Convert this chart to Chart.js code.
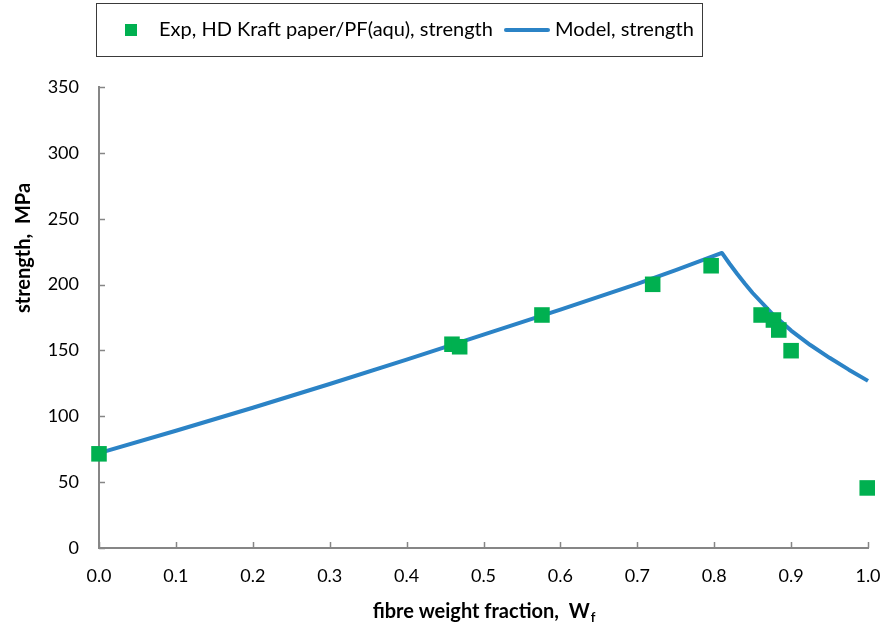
<!DOCTYPE html>
<html>
<head>
<meta charset="utf-8">
<script src="https://cdn.jsdelivr.net/npm/chart.js@4.4.1/dist/chart.umd.min.js"></script>
<style>
    html, body { margin: 0; padding: 0; background: #fff; }
    #wrap { width: 882px; height: 629px; }
</style>
</head>
<body>
<div id="wrap"><canvas id="strengthChart" width="882" height="629"></canvas></div>
<script>
// experimental points
const expFraction = [0.0, 0.459, 0.469, 0.576, 0.720, 0.796, 0.861, 0.877, 0.884, 0.900, 0.999];
const expStrength = [71.5, 154.7, 152.8, 176.9, 200.2, 214.3, 176.9, 173.1, 165.5, 149.8, 45.6];

// model curve
const modelFraction = [0, 0.1, 0.2, 0.3, 0.4, 0.5, 0.6, 0.7, 0.75, 0.81, 0.82, 0.83, 0.84, 0.85, 0.875, 0.9, 0.925, 0.95, 0.975, 1.0];
const modelStrength = [72, 89, 106.5, 124.5, 143, 162, 181, 200.5, 211, 224, 215.8, 208, 200.6, 193.6, 178.1, 165.1, 154.1, 144.4, 135.4, 126.9];

const xTicks = [0, 0.1, 0.2, 0.3, 0.4, 0.5, 0.6, 0.7, 0.8, 0.9, 1.0];
const yTicks = [0, 50, 100, 150, 200, 250, 300, 350];

const seriesNames = ['Exp, HD Kraft paper/PF(aqu), strength', 'Model, strength'];
const xTitle = 'fibre weight fraction,  W';
const xTitleSub = 'f';
const yTitle = 'strength,  MPa';

const GREEN = '#00B050';
const BLUE = '#2B83C6';
const AXIS = '#868686';
const FONT = 'Lato';

const swatch = (w, h, draw) => {
    const c = document.createElement('canvas');
    c.width = w;
    c.height = h;
    draw(c.getContext('2d'));
    return c;
};

const squareSwatch = swatch(12, 12, (g) => {
    g.fillStyle = GREEN;
    g.fillRect(0, 0, 12, 12);
});

const lineSwatch = swatch(46, 6, (g) => {
    g.strokeStyle = BLUE;
    g.lineWidth = 4;
    g.lineCap = 'round';
    g.beginPath();
    g.moveTo(2, 3);
    g.lineTo(44, 3);
    g.stroke();
});

const toPoints = (xs, ys) => xs.map((x, i) => ({ x, y: ys[i] }));

// legend frame + inner tick marks + axis titles
const decorations = {
    id: 'decorations',
    afterLayout(chart) {
        const lg = chart.legend;
        const h = lg.bottom - lg.top;
        lg.top = 4;
        lg.bottom = 4 + h;
        lg.left = 97;
    },
    beforeDatasetsDraw(chart) {
        const { ctx, chartArea, scales } = chart;
        ctx.save();
        ctx.strokeStyle = AXIS;
        ctx.lineWidth = 1.5;
        ctx.beginPath();
        xTicks.forEach((v) => {
            const px = Math.round(scales.x.getPixelForValue(v)) + 0.5;
            ctx.moveTo(px, chartArea.bottom);
            ctx.lineTo(px, chartArea.bottom - 6);
        });
        yTicks.forEach((v) => {
            const py = Math.round(scales.y.getPixelForValue(v)) + 0.5;
            ctx.moveTo(chartArea.left, py);
            ctx.lineTo(chartArea.left + 6, py);
        });
        ctx.stroke();
        ctx.restore();
    },
    afterDraw(chart) {
        const { ctx, chartArea } = chart;
        ctx.save();

        ctx.strokeStyle = '#3a3a3a';
        ctx.lineWidth = 1;
        ctx.strokeRect(96.5, 3.5, 606, 53);

        ctx.fillStyle = '#000';
        ctx.textBaseline = 'alphabetic';
        ctx.font = `bold 20px ${FONT}`;
        const mainW = ctx.measureText(xTitle).width;
        ctx.font = `bold 13px ${FONT}`;
        const subW = ctx.measureText(xTitleSub).width;
        const start = (chartArea.left + chartArea.right) / 2 - (mainW + subW) / 2;
        ctx.font = `bold 20px ${FONT}`;
        ctx.fillText(xTitle, start, 618);
        ctx.font = `bold 13px ${FONT}`;
        ctx.fillText(xTitleSub, start + mainW + 1, 622);

        ctx.font = `bold 20px ${FONT}`;
        ctx.translate(24, 248);
        ctx.rotate(-Math.PI / 2);
        ctx.textAlign = 'center';
        ctx.textBaseline = 'middle';
        ctx.fillText(yTitle, 0, 0);
        ctx.restore();
    },
};

const ctx = document.getElementById('strengthChart').getContext('2d');

new Chart(ctx, {
    type: 'scatter',
    data: {
        datasets: [
            {
                label: seriesNames[0],
                data: toPoints(expFraction, expStrength),
                pointStyle: 'rect',
                pointRadius: 11,
                pointHoverRadius: 11,
                backgroundColor: GREEN,
                borderColor: GREEN,
                borderWidth: 0,
                clip: false,
            },
            {
                label: seriesNames[1],
                data: toPoints(modelFraction, modelStrength),
                showLine: true,
                pointRadius: 0,
                pointHoverRadius: 0,
                borderColor: BLUE,
                backgroundColor: BLUE,
                borderWidth: 4,
                borderJoinStyle: 'round',
                tension: 0,
                clip: false,
            },
        ],
    },
    options: {
        responsive: false,
        animation: false,
        devicePixelRatio: 1,
        layout: {
            padding: { top: 41, right: 0, bottom: 0, left: 0 },
        },
        plugins: {
            legend: {
                display: true,
                position: 'top',
                align: 'start',
                labels: {
                    usePointStyle: true,
                    pointStyleWidth: 36,
                    padding: 16,
                    color: '#000',
                    font: { family: FONT, size: 20 },
                    generateLabels(chart) {
                        const items = Chart.defaults.plugins.legend.labels.generateLabels(chart);
                        items[0].pointStyle = squareSwatch;
                        items[1].pointStyle = lineSwatch;
                        return items;
                    },
                },
            },
            tooltip: { enabled: false },
        },
        scales: {
            x: {
                type: 'linear',
                min: 0,
                max: 1,
                afterFit(scale) {
                    scale.height = 81;
                    scale.paddingRight = 14;
                },
                afterBuildTicks(scale) {
                    scale.ticks = xTicks.map((v) => ({ value: v }));
                },
                grid: { display: false, drawTicks: false },
                border: { display: true, color: AXIS, width: 2 },
                ticks: {
                    padding: 17,
                    color: '#000',
                    font: { family: FONT, size: 18 },
                    maxRotation: 0,
                    callback: (v) => Number(v).toFixed(1),
                },
            },
            y: {
                type: 'linear',
                min: 0,
                max: 350,
                afterFit(scale) {
                    scale.width = 99;
                },
                afterBuildTicks(scale) {
                    scale.ticks = yTicks.map((v) => ({ value: v }));
                },
                grid: { display: false, drawTicks: false },
                border: { display: true, color: AXIS, width: 2 },
                ticks: {
                    padding: 20,
                    color: '#000',
                    font: { family: FONT, size: 18 },
                    callback: (v) => String(v),
                },
            },
        },
    },
    plugins: [decorations],
});
</script>
</body>
</html>
